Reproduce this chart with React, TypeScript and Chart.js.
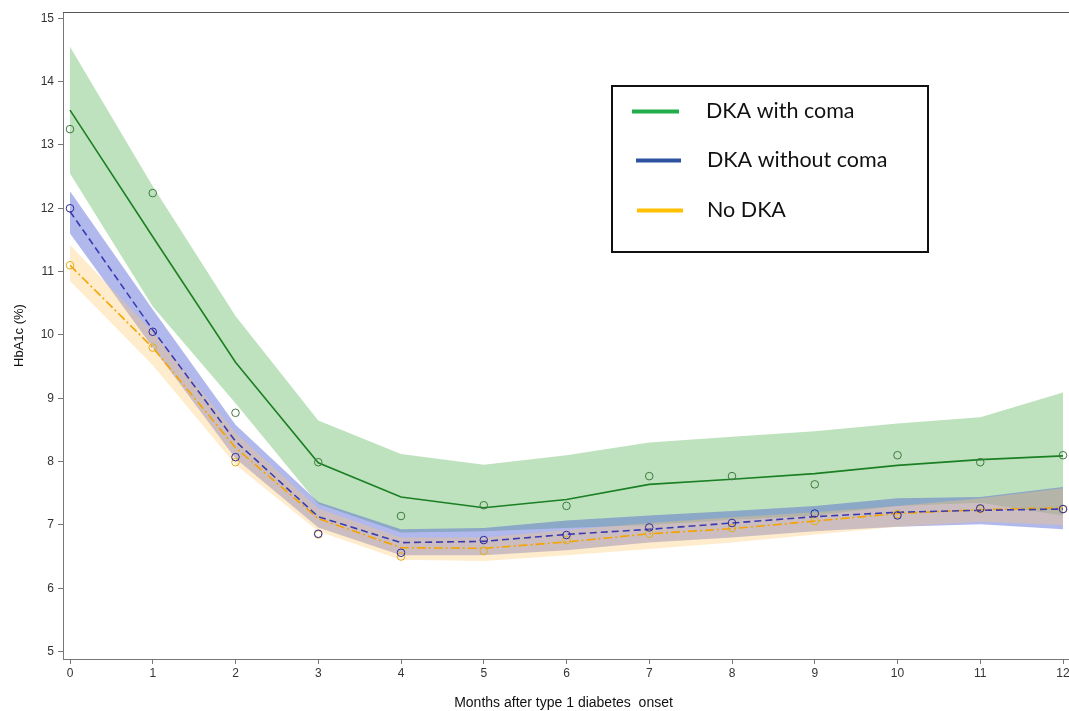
import React, { useEffect, useRef } from "react";
import { Chart, registerables } from "chart.js";

Chart.register(...registerables);

const months = [0, 1, 2, 3, 4, 5, 6, 7, 8, 9, 10, 11, 12];
const xTickValues = [0, 1, 2, 3, 4, 5, 6, 7, 8, 9, 10, 11, 12];
const yTickValues = [5, 6, 7, 8, 9, 10, 11, 12, 13, 14, 15];

// DKA with coma
const comaFit = [13.55, 11.55, 9.57, 7.98, 7.44, 7.27, 7.4, 7.64, 7.72, 7.81, 7.94, 8.03, 8.09];
const comaObs = [13.25, 12.24, 8.77, 7.99, 7.14, 7.31, 7.3, 7.77, 7.77, 7.64, 8.1, 7.99, 8.1];
const comaUpper = [14.55, 12.35, 10.3, 8.65, 8.12, 7.95, 8.1, 8.3, 8.39, 8.48, 8.6, 8.7, 9.09];
const comaLower = [12.55, 10.45, 8.92, 7.33, 6.88, 6.9, 6.95, 7.0, 7.08, 7.15, 7.3, 7.35, 7.15];

// DKA without coma
const noComaFit = [11.95, 10.08, 8.32, 7.13, 6.72, 6.74, 6.85, 6.93, 7.03, 7.13, 7.2, 7.23, 7.25];
const noComaObs = [12.0, 10.05, 8.07, 6.86, 6.56, 6.76, 6.84, 6.96, 7.03, 7.18, 7.15, 7.26, 7.25];
const noComaUpper = [12.27, 10.4, 8.58, 7.36, 6.93, 6.95, 7.07, 7.15, 7.22, 7.3, 7.42, 7.44, 7.6];
const noComaLower = [11.6, 9.8, 8.05, 6.96, 6.52, 6.52, 6.6, 6.72, 6.8, 6.9, 6.97, 7.01, 6.93];

// No DKA
const noDkaFit = [11.1, 9.8, 8.22, 7.1, 6.64, 6.63, 6.73, 6.86, 6.94, 7.06, 7.18, 7.24, 7.27];
const noDkaObs = [11.1, 9.8, 7.99, 6.85, 6.5, 6.59, 6.76, 6.86, 6.95, 7.06, 7.17, 7.25, 7.25];
const noDkaUpper = [11.42, 10.05, 8.45, 7.26, 6.8, 6.8, 6.92, 7.03, 7.12, 7.2, 7.3, 7.42, 7.58];
const noDkaLower = [10.85, 9.52, 7.95, 6.9, 6.45, 6.43, 6.52, 6.62, 6.72, 6.85, 6.97, 7.05, 7.0];

const legendLabels = ["DKA with coma", "DKA without coma", "No DKA"];
const legendColors = ["#22ad4b", "#2f52a0", "#ffc000"];

const xTitle = "Months after type 1 diabetes  onset";
const yTitle = "HbA1c (%)";

const pts = (ys: number[]) => months.map((m, i) => ({ x: m, y: ys[i] }));

function band(upper: number[], lower: number[], color: string, order: number) {
  return [
    {
      data: pts(upper),
      borderWidth: 0,
      borderColor: "rgba(0,0,0,0)",
      pointRadius: 0,
      fill: false,
      order,
    },
    {
      data: pts(lower),
      borderWidth: 0,
      borderColor: "rgba(0,0,0,0)",
      backgroundColor: color,
      pointRadius: 0,
      fill: "-1",
      order,
    },
  ];
}

function fitLine(ys: number[], color: string, dash: number[], order: number) {
  return {
    data: pts(ys),
    borderColor: color,
    borderWidth: 1.6,
    borderDash: dash,
    pointRadius: 0,
    fill: false,
    order,
  };
}

function obsPoints(ys: number[], color: string, order: number) {
  return {
    data: pts(ys),
    showLine: false,
    pointRadius: 3.8,
    pointBorderWidth: 1,
    pointBorderColor: color,
    pointBackgroundColor: "rgba(0,0,0,0)",
    borderColor: color,
    fill: false,
    clip: false,
    order,
  };
}

const framePlugin = {
  id: "framePlugin",
  afterDraw(chart: any) {
    const { ctx, chartArea } = chart;
    ctx.save();
    ctx.strokeStyle = "#555";
    ctx.lineWidth = 1;
    ctx.beginPath();
    ctx.moveTo(chartArea.left, chartArea.top + 0.5);
    ctx.lineTo(chart.width, chartArea.top + 0.5);
    ctx.stroke();
    ctx.strokeStyle = "#777";
    ctx.beginPath();
    ctx.moveTo(chartArea.right - 1, chartArea.bottom + 0.5);
    ctx.lineTo(chart.width, chartArea.bottom + 0.5);
    ctx.stroke();

    // x tick labels, positioned by the x scale
    const xs = chart.scales.x;
    ctx.fillStyle = "#333";
    ctx.font = "12px 'Liberation Sans', Arial, sans-serif";
    ctx.textAlign = "center";
    ctx.textBaseline = "top";
    xTickValues.forEach((v) => {
      ctx.fillText(String(v), xs.getPixelForValue(v), chartArea.bottom + 9);
    });

    // legend box
    const bx = 612, by = 86, bw = 316, bh = 166;
    ctx.fillStyle = "#fff";
    ctx.fillRect(bx, by, bw, bh);
    ctx.strokeStyle = "#111";
    ctx.lineWidth = 2;
    ctx.strokeRect(bx, by, bw, bh);
    const rows = [
      { y: 111.5, x0: 632, x1: 679, tx: 706 },
      { y: 160.5, x0: 636, x1: 681, tx: 707 },
      { y: 210.5, x0: 637, x1: 683, tx: 707 },
    ];
    ctx.font = "21.5px Lato, 'Noto Sans', sans-serif";
    ctx.textBaseline = "middle";
    ctx.textAlign = "left";
    rows.forEach((r, i) => {
      ctx.strokeStyle = legendColors[i];
      ctx.lineWidth = 4;
      ctx.beginPath();
      ctx.moveTo(r.x0, r.y);
      ctx.lineTo(r.x1, r.y);
      ctx.stroke();
      ctx.fillStyle = "#111";
      ctx.fillText(legendLabels[i], r.tx, r.y);
    });
    ctx.restore();
  },
};

export default function App() {
  const ref = useRef<HTMLCanvasElement>(null);
  useEffect(() => {
    if (!ref.current) return;
    Chart.defaults.font.family = "'Liberation Sans', Arial, sans-serif";
    const datasets: any[] = [
      obsPoints(comaObs, "#3d7a3d", 0),
      obsPoints(noComaObs, "#2a2a9c", 0),
      obsPoints(noDkaObs, "#e3ad1c", 0),
      fitLine(comaFit, "#1b7f24", [], 1),
      fitLine(noComaFit, "#3b3bb0", [7, 4], 1),
      fitLine(noDkaFit, "#f5a300", [9, 3, 2, 3], 1),
      ...band(comaUpper, comaLower, "rgba(110,190,110,0.45)", 9),
      ...band(noComaUpper, noComaLower, "rgba(70,85,210,0.42)", 8),
      ...band(noDkaUpper, noDkaLower, "rgba(255,200,110,0.35)", 7),
    ];
    const chart = new Chart(ref.current, {
      type: "line",
      data: { datasets },
      plugins: [framePlugin],
      options: {
        responsive: false,
        animation: false,
        layout: { padding: { top: 12, right: 0, bottom: 0, left: 0 } },
        plugins: {
          legend: { display: false },
          tooltip: { enabled: false },
        },
        elements: { line: { tension: 0 } },
        scales: {
          x: {
            type: "linear",
            min: -0.0846,
            max: 12.012,
            afterBuildTicks: (s: any) => {
              s.ticks = xTickValues.map((v) => ({ value: v }));
            },
            afterFit: (s: any) => {
              s.height = 52;
              s.paddingLeft = 0;
              s.paddingRight = 0;
            },
            grid: { drawOnChartArea: false, drawTicks: true, tickLength: 5, color: "#777" },
            border: { display: true, color: "#777", width: 1 },
            ticks: { display: false },
            title: {
              display: true,
              text: xTitle,
              color: "#111",
              font: { size: 14, lineHeight: 1.1 },
              padding: { top: 0, bottom: 0 },
            },
          },
          y: {
            type: "linear",
            min: 4.882,
            max: 15.1,
            afterBuildTicks: (s: any) => {
              s.ticks = yTickValues.map((v) => ({ value: v }));
            },
            afterFit: (s: any) => {
              s.width = 63;
            },
            grid: { drawOnChartArea: false, drawTicks: true, tickLength: 5, color: "#777" },
            border: { display: true, color: "#777", width: 1 },
            ticks: { padding: 4, color: "#333", font: { size: 12 } },
            title: {
              display: true,
              text: yTitle,
              color: "#111",
              font: { size: 13 },
              padding: { top: 12, bottom: 0 },
            },
          },
        },
      } as any,
    });
    return () => chart.destroy();
  }, []);
  return (
    <div style={{ position: "fixed", left: 0, top: 0, width: 1069, height: 711, background: "#fff" }}>
      <canvas ref={ref} width={1069} height={711} style={{ width: 1069, height: 711 }} />
    </div>
  );
}
